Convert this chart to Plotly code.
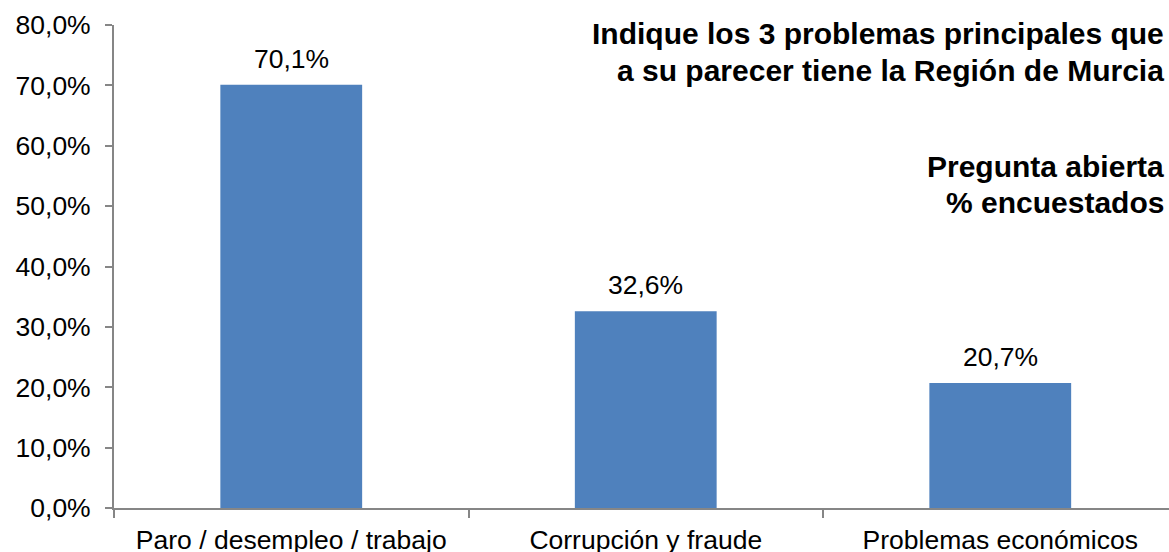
import plotly.graph_objects as go

# ---- Data -------------------------------------------------------------------
categories = ["Paro / desempleo / trabajo", "Corrupción y fraude", "Problemas económicos"]
values = [70.1, 32.6, 20.7]
value_labels = ["70,1%", "32,6%", "20,7%"]
y_ticks = [0, 10, 20, 30, 40, 50, 60, 70, 80]
y_tick_labels = ["0,0%", "10,0%", "20,0%", "30,0%", "40,0%", "50,0%", "60,0%", "70,0%", "80,0%"]
title_lines = [
    "Indique los 3 problemas principales que",
    "a su parecer tiene la Región de Murcia",
]
subtitle_lines = ["Pregunta abierta", "% encuestados"]

BAR_COLOR = "#4F81BD"
AXIS_COLOR = "#868686"
FONT = "Liberation Sans, Arial, sans-serif"

fig = go.Figure()
fig.add_trace(go.Bar(
    x=categories,
    y=values,
    width=0.4,
    marker=dict(color=BAR_COLOR, line=dict(width=0)),
    hoverinfo="skip",
))

# value labels above the bars
for cat, val, lab in zip(categories, values, value_labels):
    fig.add_annotation(
        x=cat, y=val, text=lab, showarrow=False,
        yanchor="bottom", yshift=9,
        font=dict(family=FONT, size=26.5, color="#000000"),
    )


# title block, top right (pixel rows -> paper coords)
def _paper_y(py):
    return (508 - py) / 483


for line, py in zip(title_lines + subtitle_lines, [33, 70.5, 166, 202]):
    fig.add_annotation(
        xref="paper", yref="paper", x=0.9972, y=_paper_y(py),
        xanchor="right", yanchor="middle", text=f"<b>{line}</b>",
        showarrow=False, align="right",
        font=dict(family=FONT, size=30, color="#000000"),
    )

fig.update_layout(
    width=1169,
    height=552,
    margin=dict(l=114, r=0, t=25, b=44),
    plot_bgcolor="white",
    paper_bgcolor="white",
    showlegend=False,
    font=dict(family=FONT, size=26.5, color="#000000"),
)

fig.update_xaxes(
    type="category",
    range=[-0.5, 2.476],
    automargin=False,
    showline=True, linecolor=AXIS_COLOR, linewidth=2,
    ticks="outside", tickson="boundaries", ticklen=8,
    tickcolor=AXIS_COLOR, tickwidth=2,
    ticklabelstandoff=7,
    showgrid=False,
    tickfont=dict(family=FONT, size=26.5),
)
fig.update_yaxes(
    range=[0, 80],
    automargin=False,
    tickvals=y_ticks,
    ticktext=y_tick_labels,
    showline=True, linecolor=AXIS_COLOR, linewidth=2,
    ticks="outside", ticklen=7, tickcolor=AXIS_COLOR, tickwidth=2,
    ticklabelstandoff=9,
    showgrid=False, zeroline=False,
    tickfont=dict(family=FONT, size=26.5),
)

# drop the page's default body margin so the figure fills the window exactly
fig.write_html(
    "out.html",
    config={"displayModeBar": False},
    post_script="document.body.style.margin='0';document.body.style.overflow='hidden';",
)
